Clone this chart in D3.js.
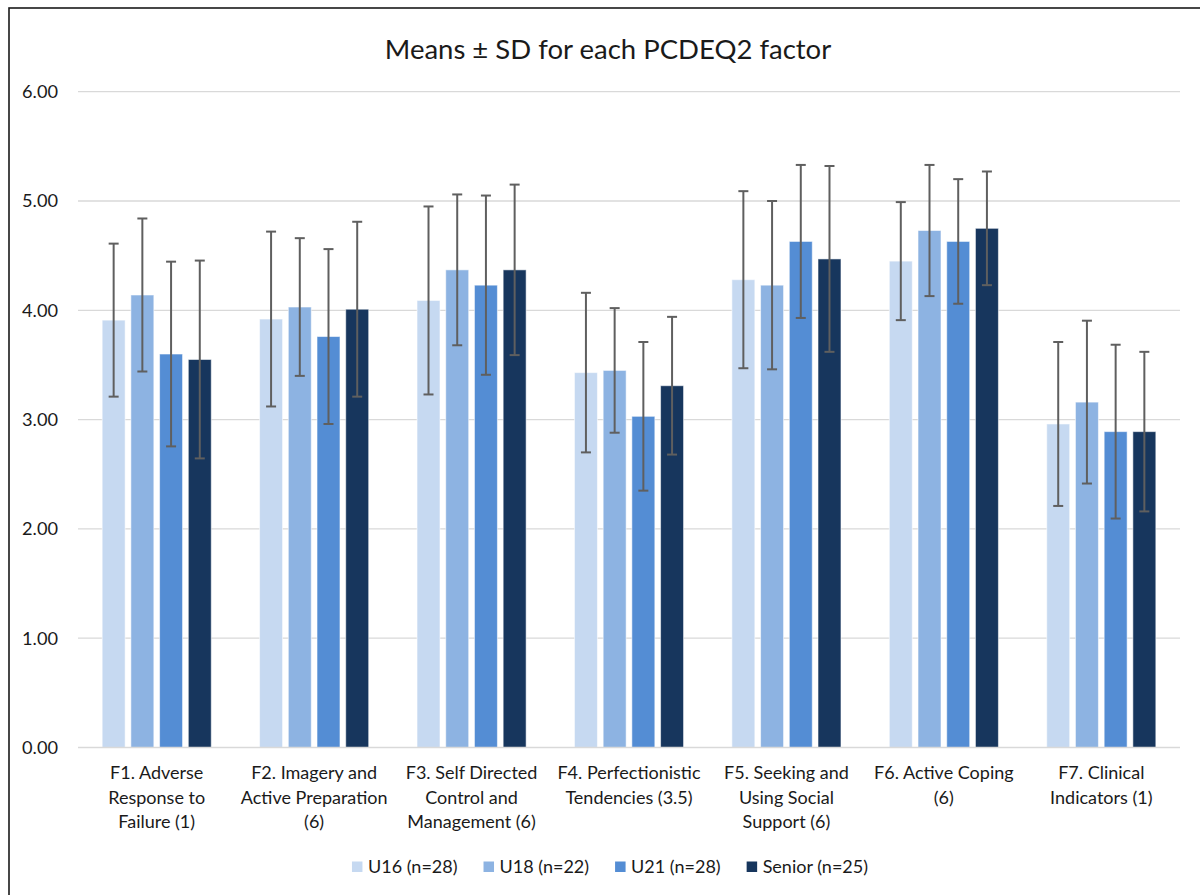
<!DOCTYPE html>
<html>
<head>
<meta charset="utf-8">
<script src="https://cdn.jsdelivr.net/npm/d3@7"></script>
<style>
  html, body { margin: 0; padding: 0; background: #ffffff; }
  svg { display: block; }
  text { font-family: Lato, "Open Sans", sans-serif; fill: #1a1a1a; }
</style>
</head>
<body>
<svg id="chart" width="1200" height="895"></svg>
<script>
// ---- data ----
const categories = ["F1", "F2", "F3", "F4", "F5", "F6", "F7"];
const categoryLabels = [
  ["F1. Adverse", "Response to", "Failure (1)"],
  ["F2. Imagery and", "Active Preparation", "(6)"],
  ["F3. Self Directed", "Control and", "Management (6)"],
  ["F4. Perfectionistic", "Tendencies (3.5)"],
  ["F5. Seeking and", "Using Social", "Support (6)"],
  ["F6. Active Coping", "(6)"],
  ["F7. Clinical", "Indicators (1)"]
];
const seriesNames = ["U16 (n=28)", "U18 (n=22)", "U21 (n=28)", "Senior (n=25)"];
const seriesColors = ["#C6D9F1", "#8DB3E2", "#548DD4", "#17365D"];
const meansU16    = [3.91, 3.92, 4.09, 3.43, 4.28, 4.45, 2.96];
const meansU18    = [4.14, 4.03, 4.37, 3.45, 4.23, 4.73, 3.16];
const meansU21    = [3.60, 3.76, 4.23, 3.03, 4.63, 4.63, 2.89];
const meansSenior = [3.55, 4.01, 4.37, 3.31, 4.47, 4.75, 2.89];
const sdU16    = [0.70, 0.80, 0.86, 0.73, 0.81, 0.54, 0.75];
const sdU18    = [0.70, 0.63, 0.69, 0.57, 0.77, 0.60, 0.745];
const sdU21    = [0.845, 0.80, 0.82, 0.68, 0.70, 0.57, 0.795];
const sdSenior = [0.905, 0.80, 0.78, 0.63, 0.85, 0.52, 0.73];
const yTicks = [0, 1, 2, 3, 4, 5, 6];
const titleText = "Means \u00B1 SD for each PCDEQ2 factor";

const meansAll = [meansU16, meansU18, meansU21, meansSenior];
const sdAll = [sdU16, sdU18, sdU21, sdSenior];

// ---- layout ----
const svg = d3.select("#chart");
const plotLeft = 78, plotRight = 1180, plotTop = 91.7, plotBottom = 747.5;

// outer border
svg.append("rect")
  .attr("x", 9).attr("y", 8)
  .attr("width", 1200).attr("height", 900)
  .attr("fill", "none").attr("stroke", "#1a1a1a").attr("stroke-width", 1.6);

const x0 = d3.scaleBand().domain(categories).range([plotLeft, plotRight]).padding(0);
const bw = x0.bandwidth();
const x1 = d3.scaleBand().domain(seriesNames)
  .range([bw * 0.1535, bw * 0.8465]).paddingInner(0.2).paddingOuter(0);
const y = d3.scaleLinear().domain([0, 6]).range([plotBottom, plotTop]);

// gridlines
svg.append("g").selectAll("line").data(yTicks.filter(d => d > 0)).join("line")
  .attr("x1", plotLeft).attr("x2", plotRight)
  .attr("y1", d => y(d)).attr("y2", d => y(d))
  .attr("stroke", "#d9d9d9").attr("stroke-width", 1.3);

// y axis labels
const yAxis = d3.axisLeft(y).tickValues(yTicks).tickFormat(d3.format(".2f")).tickSize(0).tickPadding(20);
const yg = svg.append("g").attr("transform", `translate(${plotLeft},0)`).call(yAxis);
yg.select(".domain").remove();
yg.selectAll("text").attr("font-size", 18.2).attr("font-family", "Lato, sans-serif").attr("fill", "#1a1a1a");

// bars
const groups = svg.append("g").selectAll("g").data(categories).join("g")
  .attr("transform", d => `translate(${x0(d)},0)`);

groups.each(function(cat, ci) {
  const g = d3.select(this);
  seriesNames.forEach((s, si) => {
    const m = meansAll[si][ci];
    g.append("rect")
      .attr("x", x1(s)).attr("y", y(m))
      .attr("width", x1.bandwidth()).attr("height", y(0) - y(m))
      .attr("fill", seriesColors[si])
      .attr("stroke", "#ffffff").attr("stroke-opacity", 0.55).attr("stroke-width", 1);
  });
});

// x axis line
svg.append("line")
  .attr("x1", plotLeft).attr("x2", plotRight)
  .attr("y1", y(0)).attr("y2", y(0))
  .attr("stroke", "#d9d9d9").attr("stroke-width", 1.3);

// error bars
groups.each(function(cat, ci) {
  const g = d3.select(this);
  seriesNames.forEach((s, si) => {
    const m = meansAll[si][ci], sd = sdAll[si][ci];
    const cx = x1(s) + x1.bandwidth() / 2;
    const eb = g.append("g").attr("stroke", "#5f5f5f");
    eb.append("line").attr("x1", cx).attr("x2", cx)
      .attr("y1", y(m + sd)).attr("y2", y(m - sd)).attr("stroke-width", 2);
    [m + sd, m - sd].forEach(v => {
      eb.append("line").attr("x1", cx - 5).attr("x2", cx + 5)
        .attr("y1", y(v)).attr("y2", y(v)).attr("stroke-width", 2);
    });
  });
});

// category labels
const lab = svg.append("g");
categories.forEach((c, ci) => {
  const cx = x0(c) + bw / 2;
  const t = lab.append("text").attr("text-anchor", "middle")
    .attr("font-size", 18).attr("fill", "#1a1a1a");
  categoryLabels[ci].forEach((line, li) => {
    t.append("tspan").attr("x", cx).attr("y", 779 + li * 24.5).text(line);
  });
});

// title
svg.append("text").attr("x", 608).attr("y", 59)
  .attr("text-anchor", "middle").attr("font-size", 27.5).attr("fill", "#000")
  .text(titleText);

// legend
const leg = svg.append("g");
let cur = 0;
seriesNames.forEach((s, si) => {
  const it = leg.append("g");
  it.append("rect").attr("x", cur).attr("y", -5).attr("width", 10.5).attr("height", 10.5)
    .attr("fill", seriesColors[si]);
  const tx = it.append("text").attr("x", cur + 16).attr("y", 6.5)
    .attr("font-size", 18).attr("fill", "#1a1a1a").text(s);
  const w = tx.node().getComputedTextLength();
  cur += 16 + w + 26;
});
const total = cur - 26;
leg.attr("transform", `translate(${610 - total / 2},866.5)`);
</script>
</body>
</html>
